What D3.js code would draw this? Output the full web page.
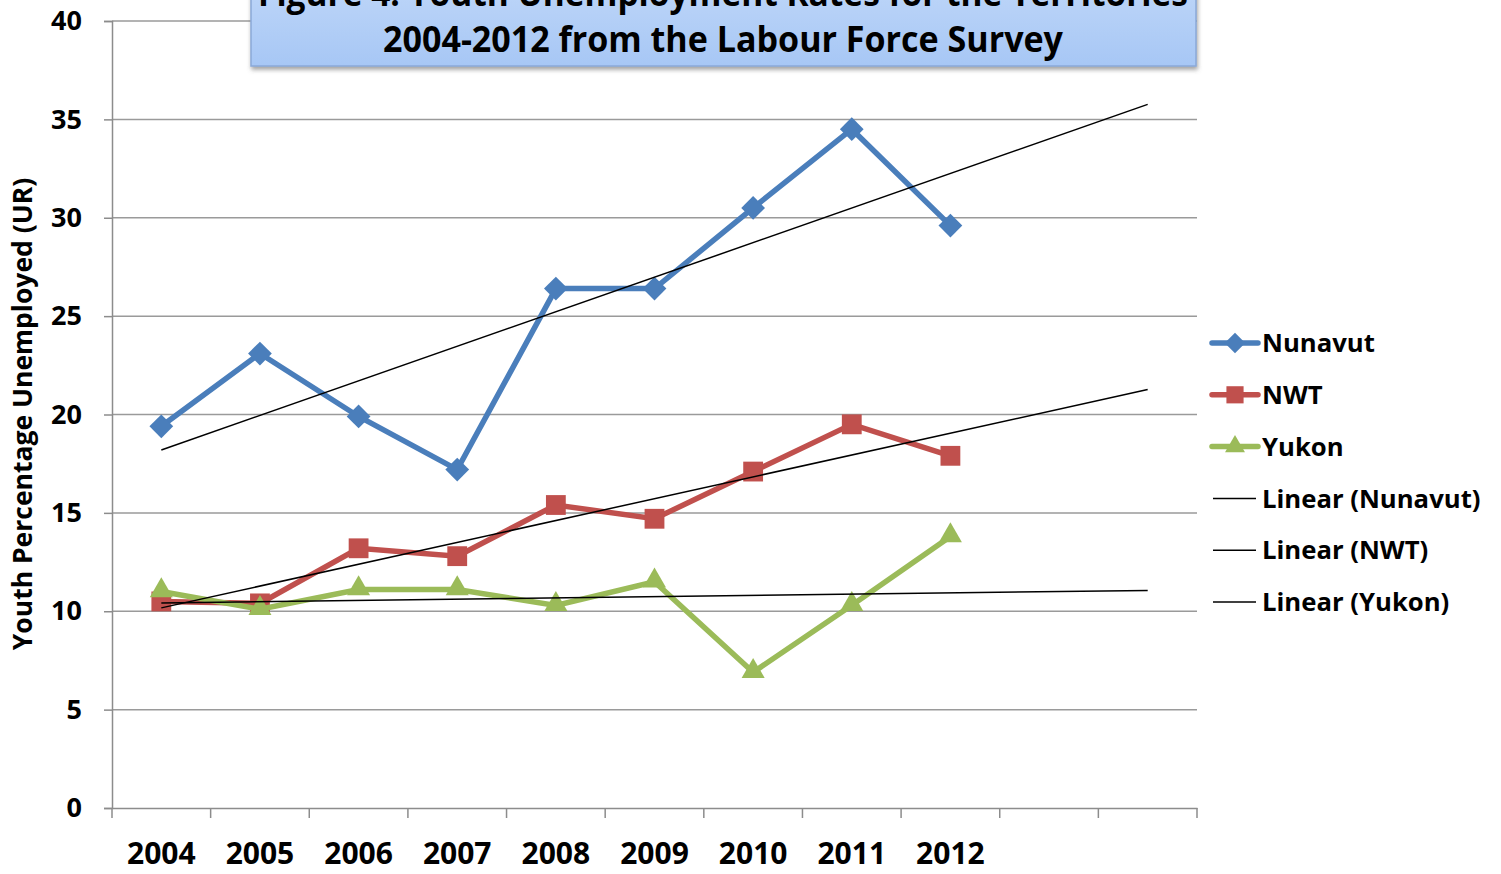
<!DOCTYPE html>
<html><head><meta charset="utf-8">
<script src="https://cdn.jsdelivr.net/npm/d3@7"></script>
<style>html,body{margin:0;padding:0;background:#fff;}svg{display:block;}</style>
</head><body>
<svg id="chart" width="1501" height="874"></svg>
<script>
const years = ["2004","2005","2006","2007","2008","2009","2010","2011","2012"];
const forecastPeriods = 2;
const nunavut = [19.4, 23.1, 19.9, 17.2, 26.4, 26.4, 30.5, 34.5, 29.6];
const nwt     = [10.5, 10.4, 13.2, 12.8, 15.4, 14.7, 17.1, 19.5, 17.9];
const yukon   = [11.0, 10.1, 11.1, 11.1, 10.3, 11.5, 6.9, 10.3, 13.8];
const yTicks = [0,5,10,15,20,25,30,35,40];
const titleLines = ["Figure 4: Youth Unemployment Rates for the Territories","2004-2012 from the Labour Force Survey"];
const yTitle = "Youth Percentage Unemployed (UR)";

const series = [
  {name:"Nunavut", values:nunavut, color:"#4a7ebb", shape:"diamond"},
  {name:"NWT", values:nwt, color:"#c0504d", shape:"square"},
  {name:"Yukon", values:yukon, color:"#9bbb59", shape:"triangle"}
];

const svg = d3.select("#chart");
const font = "'Open Sans', Lato, sans-serif";
const L = 112, R = 1197, T = 21, B = 808;

const slots = d3.range(years.length + forecastPeriods);
const x = d3.scaleBand().domain(slots).range([L, R]).paddingInner(0).paddingOuter(0);
const cx = i => x(i) + x.bandwidth()/2;
const y = d3.scaleLinear().domain([0,40]).range([B, T]);

// gridlines
svg.append("g").selectAll("line").data(yTicks.filter(d=>d>0)).join("line")
  .attr("x1", L).attr("x2", R).attr("y1", d=>y(d)).attr("y2", d=>y(d))
  .attr("stroke","#9a9a9a").attr("stroke-width",1.5);

// y axis
const yAxis = d3.axisLeft(y).tickValues(yTicks).tickSize(8).tickPadding(22);
const gy = svg.append("g").attr("transform",`translate(${L},0)`).call(yAxis);
gy.select(".domain").attr("stroke","#8c8c8c").attr("stroke-width",1.5);
gy.selectAll(".tick line").attr("stroke","#8c8c8c").attr("stroke-width",1.5);
gy.selectAll(".tick text").attr("font-family",font).attr("font-weight","bold")
  .attr("font-size",27).attr("fill","#000");

// x axis
const xAxis = d3.axisBottom(x).tickSize(0).tickFormat(i => i < years.length ? years[i] : "");
const gx = svg.append("g").attr("transform",`translate(0,${B})`).call(xAxis);
gx.select(".domain").attr("stroke","#8c8c8c").attr("stroke-width",1.5);
gx.selectAll(".tick text").attr("font-family",font).attr("font-weight","bold")
  .attr("font-size",30).attr("fill","#000").attr("y",56).attr("dy",0);
// category boundary tick marks
svg.append("g").selectAll("line").data(d3.range(slots.length+1)).join("line")
  .attr("x1", i => L + i*x.bandwidth()).attr("x2", i => L + i*x.bandwidth())
  .attr("y1", B).attr("y2", B+10).attr("stroke","#8c8c8c").attr("stroke-width",1.5);

// y title
svg.append("text").attr("transform",`translate(32,414) rotate(-90)`)
  .attr("text-anchor","middle").attr("font-family",font).attr("font-weight","bold")
  .attr("font-size",26.5).text(yTitle);

// series lines
const line = d3.line().x((d,i)=>cx(i)).y(d=>y(d));
const symbolFor = s => s==="diamond" ? d3.symbolDiamond2 : s==="square" ? d3.symbolSquare2 : d3.symbolTriangle2;
const sizeFor = s => s==="diamond" ? 360 : s==="square" ? 500 : 380;

series.forEach(s => {
  svg.append("path").datum(s.values).attr("d", line).attr("fill","none")
    .attr("stroke", s.color).attr("stroke-width",5.5).attr("stroke-linejoin","miter");
  const sym = d3.symbol().type(symbolFor(s.shape)).size(sizeFor(s.shape));
  svg.append("g").selectAll("path").data(s.values).join("path")
    .attr("d", sym).attr("transform",(d,i)=>`translate(${cx(i)},${y(d) + (s.shape==="triangle"? -1:0)})`)
    .attr("fill", s.color).attr("stroke","none");
});

// linear trendlines (least squares), forecast forward
series.forEach(s => {
  const n = s.values.length;
  const mx = d3.mean(d3.range(n)), my = d3.mean(s.values);
  const sxy = d3.sum(s.values, (v,i)=>(i-mx)*(v-my));
  const sxx = d3.sum(d3.range(n), i=>(i-mx)*(i-mx));
  const b = sxy/sxx, a = my - b*mx;
  const last = n - 1 + forecastPeriods;
  svg.append("line").attr("x1", cx(0)).attr("y1", y(a)).attr("x2", cx(last)).attr("y2", y(a + b*last))
    .attr("stroke","#000").attr("stroke-width",1.5);
});

// legend
const legY0 = 343, legDy = 51.8;
const legend = svg.append("g");
series.forEach((s,k) => {
  const yy = legY0 + k*legDy;
  legend.append("line").attr("x1",1212).attr("x2",1258).attr("y1",yy).attr("y2",yy)
    .attr("stroke",s.color).attr("stroke-width",5.5).attr("stroke-linecap","round");
  legend.append("path").attr("d", d3.symbol().type(symbolFor(s.shape)).size(sizeFor(s.shape)*0.75)())
    .attr("transform",`translate(1235,${yy})`).attr("fill",s.color);
  legend.append("text").attr("x",1262).attr("y",yy).attr("dy","0.36em")
    .attr("font-family",font).attr("font-weight","bold").attr("font-size",25.7).text(s.name);
});
series.forEach((s,k) => {
  const yy = legY0 + (k+3)*legDy;
  legend.append("line").attr("x1",1213).attr("x2",1256).attr("y1",yy).attr("y2",yy)
    .attr("stroke","#000").attr("stroke-width",1.5);
  legend.append("text").attr("x",1262).attr("y",yy).attr("dy","0.36em")
    .attr("font-family",font).attr("font-weight","bold").attr("font-size",25.7).text(`Linear (${s.name})`);
});

// title box
const defs = svg.append("defs");
const grad = defs.append("linearGradient").attr("id","tg").attr("x1",0).attr("y1",0).attr("x2",0).attr("y2",1);
grad.append("stop").attr("offset","0%").attr("stop-color","#c4daf9");
grad.append("stop").attr("offset","100%").attr("stop-color","#a7c7f5");
const flt = defs.append("filter").attr("id","sh").attr("x","-5%").attr("y","-20%").attr("width","110%").attr("height","150%");
flt.append("feDropShadow").attr("dx",1).attr("dy",3).attr("stdDeviation",2).attr("flood-color","#555").attr("flood-opacity",0.55);
svg.append("rect").attr("x",251).attr("y",-40).attr("width",945).attr("height",106)
  .attr("fill","url(#tg)").attr("stroke","#8aa9d8").attr("stroke-width",1.5).attr("filter","url(#sh)");
svg.append("text").attr("x",723).attr("y",6).attr("text-anchor","middle")
  .attr("font-family",font).attr("font-weight","bold").attr("font-size",36)
  .attr("textLength",930).attr("lengthAdjust","spacingAndGlyphs").text(titleLines[0]);
svg.append("text").attr("x",723).attr("y",52).attr("text-anchor","middle")
  .attr("font-family",font).attr("font-weight","bold").attr("font-size",36)
  .attr("textLength",680).attr("lengthAdjust","spacingAndGlyphs").text(titleLines[1]);
</script>
</body></html>
